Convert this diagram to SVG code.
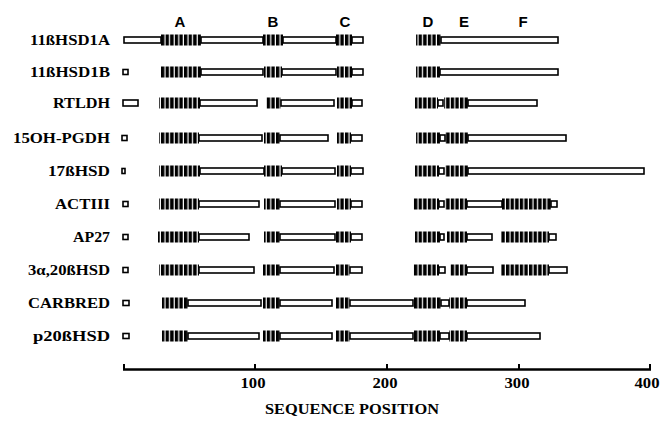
<svg xmlns="http://www.w3.org/2000/svg" width="660" height="421" viewBox="0 0 660 421">
<style>
.lbl{font-family:"Liberation Serif","Times New Roman",serif;font-weight:bold;font-size:15px;fill:#000;text-anchor:end}
.reg{font-family:"Liberation Sans",Arial,sans-serif;font-weight:bold;font-size:15px;fill:#000;text-anchor:middle}
.ax{font-family:"Liberation Serif","Times New Roman",serif;font-weight:bold;font-size:15px;fill:#000;text-anchor:middle}
.w{fill:#fff;stroke:#000;stroke-width:1.6}
.h{fill:url(#hatch)}
</style>
<defs>
<pattern id="hatch" patternUnits="userSpaceOnUse" width="4.6" height="12">
<rect x="0" y="0" width="3.4" height="12" fill="#000"/>
</pattern>
</defs>
<rect width="660" height="421" fill="#fff"/>
<g id="regions">
<text class="reg" x="180" y="27">A</text>
<text class="reg" x="273" y="27">B</text>
<text class="reg" x="345" y="27">C</text>
<text class="reg" x="428" y="27">D</text>
<text class="reg" x="464" y="27">E</text>
<text class="reg" x="523" y="27">F</text>
</g>
<g id="r1" transform="translate(0,40)">
<text class="lbl" x="110" y="5" textLength="80" lengthAdjust="spacingAndGlyphs">11ßHSD1A</text>
<rect class="w" x="124" y="-3" width="37" height="6"/><rect class="w" x="201" y="-3" width="62" height="6"/><rect class="w" x="283" y="-3" width="53" height="6"/><rect class="w" x="352" y="-3" width="11" height="6"/><rect class="w" x="441" y="-3" width="117" height="6"/>
<rect class="h" x="161" y="-5.5" width="40" height="11"/><rect class="h" x="263" y="-5.5" width="20" height="11"/><rect class="h" x="336" y="-5.5" width="16" height="11"/><rect class="h" x="416" y="-5.5" width="25" height="11"/>
</g>
<g id="r2" transform="translate(0,72)">
<text class="lbl" x="110" y="5" textLength="80" lengthAdjust="spacingAndGlyphs">11ßHSD1B</text>
<rect class="w" x="123" y="-2.5" width="5" height="5"/><rect class="w" x="201" y="-3" width="62" height="6"/><rect class="w" x="282" y="-3" width="54" height="6"/><rect class="w" x="352" y="-3" width="11" height="6"/><rect class="w" x="440" y="-3" width="118" height="6"/>
<rect class="h" x="161" y="-5.5" width="40" height="11"/><rect class="h" x="264" y="-5.5" width="18" height="11"/><rect class="h" x="337" y="-5.5" width="15" height="11"/><rect class="h" x="416" y="-5.5" width="24" height="11"/>
</g>
<g id="r3" transform="translate(0,103)">
<text class="lbl" x="110" y="5" textLength="57" lengthAdjust="spacingAndGlyphs">RTLDH</text>
<rect class="w" x="123" y="-3" width="15" height="6"/><rect class="w" x="200" y="-3" width="57" height="6"/><rect class="w" x="281" y="-3" width="53" height="6"/><rect class="w" x="352" y="-3" width="10" height="6"/><rect class="w" x="438" y="-3" width="5" height="6"/><rect class="w" x="468" y="-3" width="69" height="6"/>
<rect class="h" x="159" y="-5.5" width="41" height="11"/><rect class="h" x="266" y="-5.5" width="15" height="11"/><rect class="h" x="337" y="-5.5" width="15" height="11"/><rect class="h" x="415" y="-5.5" width="23" height="11"/><rect class="h" x="444" y="-5.5" width="24" height="11"/>
</g>
<g id="r4" transform="translate(0,138)">
<text class="lbl" x="110" y="5" textLength="97" lengthAdjust="spacingAndGlyphs">15OH-PGDH</text>
<rect class="w" x="122" y="-2.5" width="5" height="5"/><rect class="w" x="199" y="-3" width="63" height="6"/><rect class="w" x="280" y="-3" width="48" height="6"/><rect class="w" x="351" y="-3" width="11" height="6"/><rect class="w" x="440" y="-3" width="5" height="6"/><rect class="w" x="468" y="-3" width="98" height="6"/>
<rect class="h" x="159" y="-5.5" width="40" height="11"/><rect class="h" x="264" y="-5.5" width="16" height="11"/><rect class="h" x="337" y="-5.5" width="14" height="11"/><rect class="h" x="416" y="-5.5" width="24" height="11"/><rect class="h" x="445" y="-5.5" width="23" height="11"/>
</g>
<g id="r5" transform="translate(0,171)">
<text class="lbl" x="110" y="5" textLength="62" lengthAdjust="spacingAndGlyphs">17ßHSD</text>
<rect class="w" x="122" y="-2.5" width="3" height="5"/><rect class="w" x="200" y="-3" width="64" height="6"/><rect class="w" x="282" y="-3" width="53" height="6"/><rect class="w" x="351" y="-3" width="12" height="6"/><rect class="w" x="439" y="-3" width="5" height="6"/><rect class="w" x="468" y="-3" width="176" height="6"/>
<rect class="h" x="159" y="-5.5" width="41" height="11"/><rect class="h" x="264" y="-5.5" width="18" height="11"/><rect class="h" x="337" y="-5.5" width="14" height="11"/><rect class="h" x="415" y="-5.5" width="24" height="11"/><rect class="h" x="445" y="-5.5" width="23" height="11"/>
</g>
<g id="r6" transform="translate(0,204)">
<text class="lbl" x="110" y="5" textLength="55" lengthAdjust="spacingAndGlyphs">ACTIII</text>
<rect class="w" x="123" y="-2.5" width="5" height="5"/><rect class="w" x="199" y="-3" width="60" height="6"/><rect class="w" x="280" y="-3" width="55" height="6"/><rect class="w" x="351" y="-3" width="11" height="6"/><rect class="w" x="439" y="-3" width="5" height="6"/><rect class="w" x="467" y="-3" width="35" height="6"/><rect class="w" x="551" y="-3" width="6" height="6"/>
<rect class="h" x="159" y="-5.5" width="40" height="11"/><rect class="h" x="264" y="-5.5" width="16" height="11"/><rect class="h" x="337" y="-5.5" width="14" height="11"/><rect class="h" x="413" y="-5.5" width="26" height="11"/><rect class="h" x="445" y="-5.5" width="22" height="11"/><rect class="h" x="502" y="-5.5" width="49" height="11"/>
</g>
<g id="r7" transform="translate(0,237)">
<text class="lbl" x="110" y="5" textLength="37" lengthAdjust="spacingAndGlyphs">AP27</text>
<rect class="w" x="123" y="-2.5" width="5" height="5"/><rect class="w" x="199" y="-3" width="50" height="6"/><rect class="w" x="280" y="-3" width="55" height="6"/><rect class="w" x="351" y="-3" width="11" height="6"/><rect class="w" x="440" y="-3" width="4" height="6"/><rect class="w" x="467" y="-3" width="25" height="6"/><rect class="w" x="549" y="-3" width="7" height="6"/>
<rect class="h" x="158" y="-5.5" width="41" height="11"/><rect class="h" x="264" y="-5.5" width="16" height="11"/><rect class="h" x="336" y="-5.5" width="15" height="11"/><rect class="h" x="415" y="-5.5" width="25" height="11"/><rect class="h" x="447" y="-5.5" width="20" height="11"/><rect class="h" x="501" y="-5.5" width="48" height="11"/>
</g>
<g id="r8" transform="translate(0,270)">
<text class="lbl" x="110" y="5" textLength="82" lengthAdjust="spacingAndGlyphs">3α,20ßHSD</text>
<rect class="w" x="123" y="-2.5" width="5" height="5"/><rect class="w" x="199" y="-3" width="55" height="6"/><rect class="w" x="280" y="-3" width="54" height="6"/><rect class="w" x="350" y="-3" width="12" height="6"/><rect class="w" x="439" y="-3" width="6" height="6"/><rect class="w" x="467" y="-3" width="26" height="6"/><rect class="w" x="549" y="-3" width="18" height="6"/>
<rect class="h" x="159" y="-5.5" width="40" height="11"/><rect class="h" x="263" y="-5.5" width="17" height="11"/><rect class="h" x="336" y="-5.5" width="14" height="11"/><rect class="h" x="413" y="-5.5" width="26" height="11"/><rect class="h" x="450" y="-5.5" width="17" height="11"/><rect class="h" x="501" y="-5.5" width="48" height="11"/>
</g>
<g id="r9" transform="translate(0,303)">
<text class="lbl" x="110" y="5" textLength="82" lengthAdjust="spacingAndGlyphs">CARBRED</text>
<rect class="w" x="123" y="-2.5" width="6" height="5"/><rect class="w" x="188" y="-3" width="73" height="6"/><rect class="w" x="280" y="-3" width="52" height="6"/><rect class="w" x="350" y="-3" width="63" height="6"/><rect class="w" x="441" y="-3" width="8" height="6"/><rect class="w" x="467" y="-3" width="58" height="6"/>
<rect class="h" x="162" y="-5.5" width="26" height="11"/><rect class="h" x="263" y="-5.5" width="17" height="11"/><rect class="h" x="336" y="-5.5" width="14" height="11"/><rect class="h" x="413" y="-5.5" width="28" height="11"/><rect class="h" x="449" y="-5.5" width="18" height="11"/>
</g>
<g id="r10" transform="translate(0,336)">
<text class="lbl" x="110" y="5" textLength="77" lengthAdjust="spacingAndGlyphs">p20ßHSD</text>
<rect class="w" x="123" y="-2.5" width="6" height="5"/><rect class="w" x="188" y="-3" width="71" height="6"/><rect class="w" x="280" y="-3" width="52" height="6"/><rect class="w" x="350" y="-3" width="63" height="6"/><rect class="w" x="440" y="-3" width="9" height="6"/><rect class="w" x="467" y="-3" width="73" height="6"/>
<rect class="h" x="162" y="-5.5" width="26" height="11"/><rect class="h" x="263" y="-5.5" width="17" height="11"/><rect class="h" x="336" y="-5.5" width="14" height="11"/><rect class="h" x="413" y="-5.5" width="27" height="11"/><rect class="h" x="449" y="-5.5" width="18" height="11"/>
</g>
<g id="axis" stroke="#000" fill="none">
<line x1="123" y1="369.5" x2="651" y2="369.5" stroke-width="2.6"/>
<path d="M124 370V364M255 370V364M387 370V364M519 370V364M650 370V364" stroke-width="2"/>
</g>
<g id="axis-labels">
<text class="ax" x="253" y="388" textLength="25" lengthAdjust="spacingAndGlyphs">100</text>
<text class="ax" x="385" y="388" textLength="25" lengthAdjust="spacingAndGlyphs">200</text>
<text class="ax" x="517" y="388" textLength="25" lengthAdjust="spacingAndGlyphs">300</text>
<text class="ax" x="647" y="388" textLength="25" lengthAdjust="spacingAndGlyphs">400</text>
<text class="ax" x="352" y="414" textLength="174" lengthAdjust="spacingAndGlyphs">SEQUENCE POSITION</text>
</g>
</svg>
